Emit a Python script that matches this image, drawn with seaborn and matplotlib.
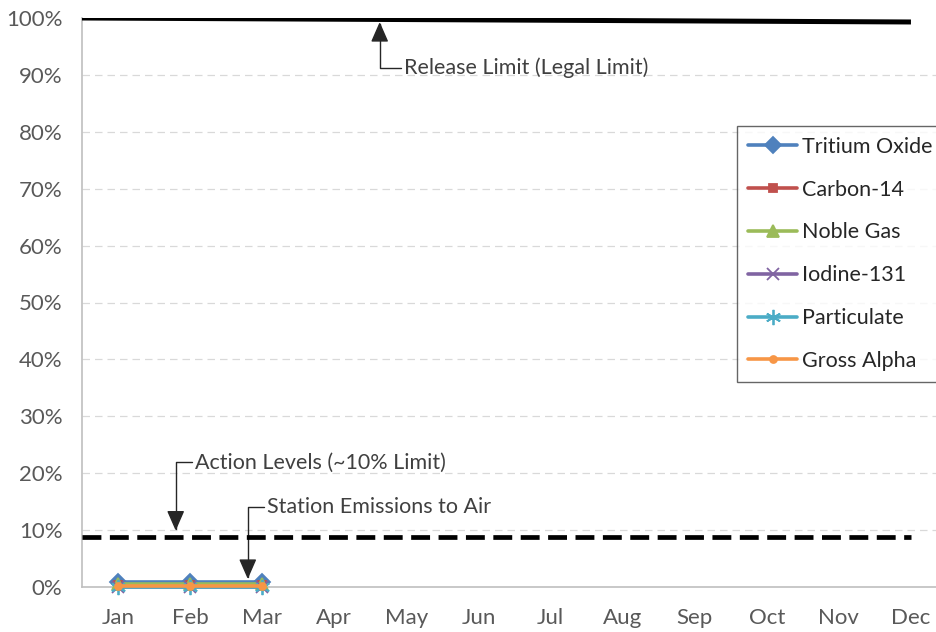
import pandas as pd
import seaborn as sns
import matplotlib.pyplot as plt
from matplotlib.ticker import PercentFormatter

MONTHS = ["Jan", "Feb", "Mar", "Apr", "May", "Jun", "Jul", "Aug", "Sep", "Oct", "Nov", "Dec"]
REPORTED = ["Jan", "Feb", "Mar"]

SERIES = ["Tritium Oxide", "Carbon-14", "Noble Gas", "Iodine-131", "Particulate", "Gross Alpha"]
tritium = [0.009, 0.009, 0.009]
carbon14 = [0.004, 0.004, 0.004]
noble_gas = [0.0045, 0.0045, 0.0045]
iodine131 = [0.0, 0.0, 0.0]
particulate = [0.0, 0.0, 0.0]
gross_alpha = [0.002, 0.002, 0.002]

# limits, start (Jan) and end (Dec)
release_limit = [1.0, 0.993]
action_level = [0.088, 0.088]

COLORS = ["#4F81BD", "#C0504D", "#9BBB59", "#8064A2", "#4BACC6", "#F79646"]
ASTERISK = (6, 2, 0)
MARKERS = ["D", "s", "^", "x", ASTERISK, "o"]
MSIZE = [8, 6, 8, 9, 11, 5]

sns.set_style("white")
plt.rcParams['font.family'] = ['Lato', 'DejaVu Sans']

fig = plt.figure(figsize=(9.36, 6.32), dpi=100)
ax = fig.add_axes([82 / 936, 45 / 632, 865 / 936, 569 / 632])

vals = [tritium, carbon14, noble_gas, iodine131, particulate, gross_alpha]
rows = []
for name, v in zip(SERIES, vals):
    for m, y in zip(REPORTED, v):
        rows.append({"month": MONTHS.index(m), "value": y, "series": name})
df = pd.DataFrame(rows)

for i, name in enumerate(SERIES):
    sub = df[df.series == name]
    sns.lineplot(data=sub, x="month", y="value", ax=ax, color=COLORS[i],
                 marker=MARKERS[i], markersize=MSIZE[i], markeredgecolor=COLORS[i],
                 markeredgewidth=1.3, linewidth=2.6, label=name, zorder=5 + i,
                 clip_on=False)

ax.plot([-0.5, 11], release_limit, color="black", linewidth=3.6, zorder=4,
        solid_capstyle="butt")
ax.plot([-0.5, 11], action_level, color="black", linewidth=3.4, zorder=4,
        linestyle=(0, (4.0, 1.8)))

ax.set_xlim(-0.5, 11.5)
ax.set_ylim(0, 1.0)
ax.set_xticks(range(12))
ax.set_xticklabels(MONTHS)
ax.set_yticks([i / 10 for i in range(11)])
ax.yaxis.set_major_formatter(PercentFormatter(1.0, decimals=0))
ax.tick_params(axis="both", length=0, labelsize=16, colors="#595959")
ax.tick_params(axis="x", pad=15)
ax.tick_params(axis="y", pad=14)
ax.set_xlabel("")
ax.set_ylabel("")

for y in [i / 10 for i in range(1, 10)]:
    ax.axhline(y, color="#D9D9D9", linewidth=0.9, linestyle=(0, (6, 4)), zorder=1)

for s in ["top", "right"]:
    ax.spines[s].set_visible(False)
ax.spines["left"].set_color("#BFBFBF")
ax.spines["bottom"].set_color("#BFBFBF")
ax.spines["left"].set_linewidth(1.2)
ax.spines["bottom"].set_linewidth(1.2)

arrow = dict(arrowstyle="-|>,head_length=0.8,head_width=0.35", color="#262626",
             linewidth=1.0, shrinkA=0, shrinkB=0, connectionstyle="angle,angleA=0,angleB=90,rad=0")
ax.annotate("Release Limit (Legal Limit)", xy=(3.63, 0.993), xytext=(3.97, 0.912),
            ha="left", va="center", fontsize=15.5, color="#404040", arrowprops=arrow)
ax.annotate("Action Levels (~10% Limit)", xy=(0.80, 0.099), xytext=(1.07, 0.219),
            ha="left", va="center", fontsize=15.5, color="#404040", arrowprops=arrow)
ax.annotate("Station Emissions to Air", xy=(1.80, 0.014), xytext=(2.07, 0.14),
            ha="left", va="center", fontsize=15.5, color="#404040", arrowprops=arrow)

leg = ax.legend(loc="upper left", bbox_to_anchor=(737 / 936, 1 - 126 / 632),
                bbox_transform=fig.transFigure, frameon=True, fancybox=False,
                fontsize=15.5, handlelength=2.3, handletextpad=0.2,
                labelspacing=1.06, borderpad=0.5, borderaxespad=0)
leg.get_frame().set_edgecolor("#404040")
leg.get_frame().set_linewidth(1.0)
for t in leg.get_texts():
    t.set_color("#262626")

fig.savefig("out.png", dpi=100)
